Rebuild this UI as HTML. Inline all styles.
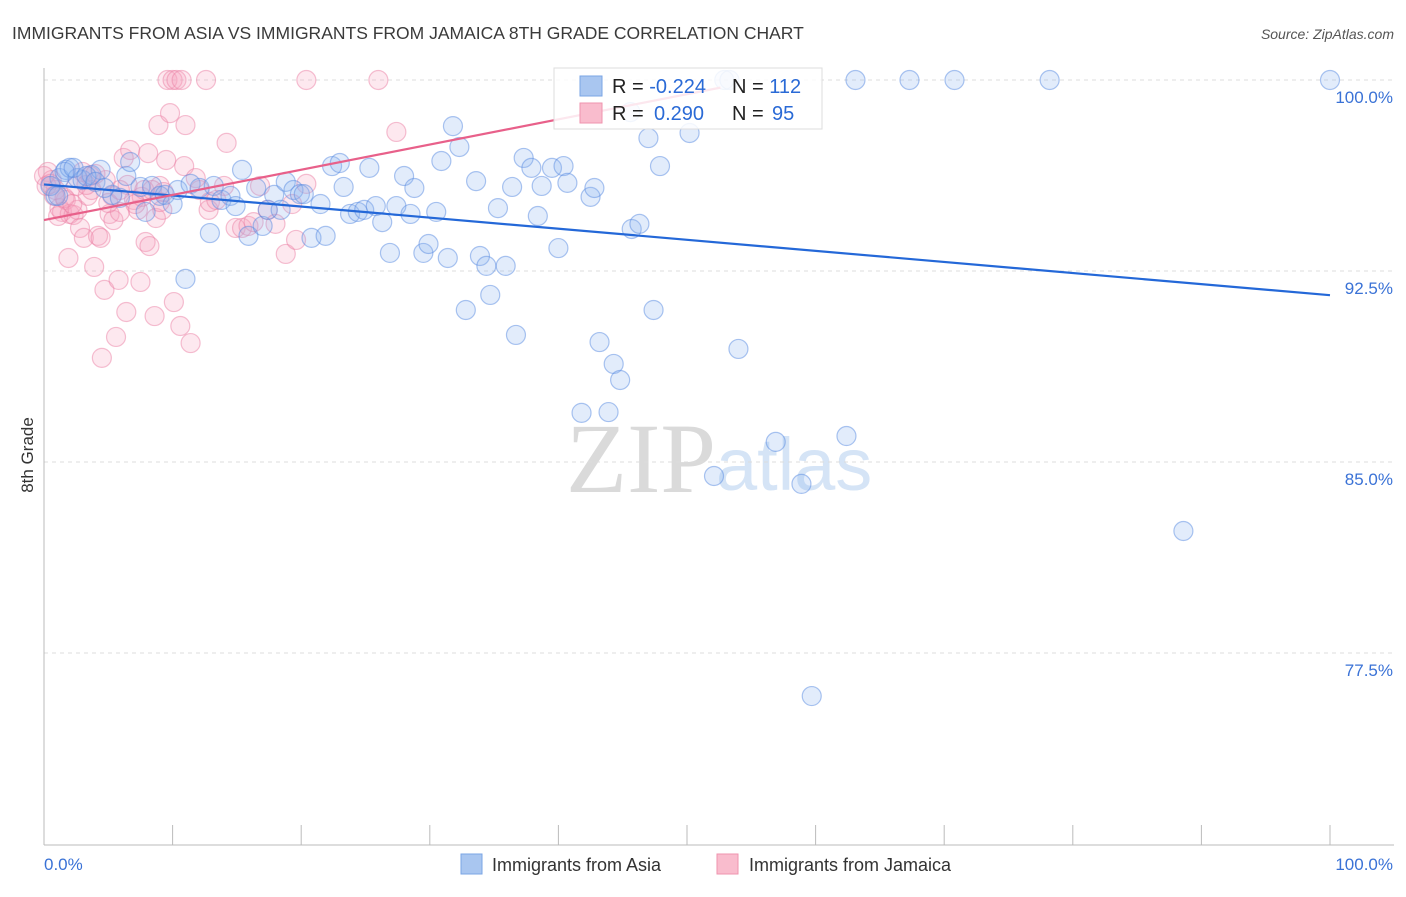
<!DOCTYPE html>
<html><head><meta charset="utf-8"><style>
body{margin:0;background:#fff;font-family:"Liberation Sans",sans-serif}
svg text{font-family:"Liberation Sans",sans-serif}
</style></head><body>
<svg id="c" width="1406" height="892">
<text x="12" y="39" font-size="17.5" fill="#3a3a3a">IMMIGRANTS FROM ASIA VS IMMIGRANTS FROM JAMAICA 8TH GRADE CORRELATION CHART</text>
<text x="1394" y="39" font-size="14" fill="#555" font-style="italic" text-anchor="end">Source: ZipAtlas.com</text>
<text x="716" y="492" font-size="100" fill="#dadada" text-anchor="end" style="font-family:'Liberation Serif',serif">ZIP</text>
<text x="716" y="490" font-size="74" fill="#d5e4f6">atlas</text>
<g id="grid"></g>
<g id="pts"></g>
<g id="lines"></g>
<text transform="translate(33,455) rotate(-90)" font-size="17" fill="#333" text-anchor="middle">8th Grade</text>
<g>
<rect x="554" y="68" width="268" height="61" fill="#fff" fill-opacity="0.85" stroke="#ddd"/>
<rect x="580" y="76" width="22" height="20" fill="#a9c6f0" stroke="#7aa5e5"/>
<rect x="580" y="103" width="22" height="20" fill="#f9bccd" stroke="#ef93ae"/>
<text x="612" y="93" font-size="20" fill="#222">R = <tspan fill="#2a6ad6">-0.224</tspan><tspan x="732">N = </tspan><tspan fill="#2a6ad6">112</tspan></text>
<text x="612" y="120" font-size="20" fill="#222">R = <tspan x="654" fill="#2a6ad6">0.290</tspan><tspan x="732">N = </tspan><tspan x="772" fill="#2a6ad6">95</tspan></text>
</g>
<g>
<rect x="461" y="854" width="21" height="20" fill="#a9c6f0" stroke="#7aa5e5"/>
<text x="492" y="871" font-size="18" fill="#333">Immigrants from Asia</text>
<rect x="717" y="854" width="21" height="20" fill="#f9bccd" stroke="#ef93ae"/>
<text x="749" y="871" font-size="18" fill="#333">Immigrants from Jamaica</text>
</g>
</svg>
<script>
const yTicks=[100,92.5,85,77.5];
const yTickLabels=["100.0%","92.5%","85.0%","77.5%"];
const xTickVals=[0,10,20,30,40,50,60,70,80,90,100];
const asiaX=[0.9,1.2,1.7,2.0,2.6,3.0,3.7,4.4,5.3,5.9,6.4,6.7,7.5,7.9,8.4,9.0,9.4,10.0,10.4,11.0,11.4,12.1,12.9,13.2,13.8,14.5,14.9,15.4,15.9,16.5,17.0,17.4,17.9,18.4,18.8,19.4,19.9,20.2,20.8,21.5,21.9,22.4,23.0,23.3,23.8,24.4,24.9,25.3,25.8,26.3,26.9,27.4,28.0,28.5,28.8,29.5,29.9,30.5,30.9,31.4,31.8,32.3,32.8,33.6,33.9,34.4,34.7,35.3,35.9,36.4,36.7,37.3,37.9,38.4,38.7,39.5,40.0,40.4,40.7,41.8,42.5,42.8,43.2,43.9,44.3,44.8,45.6,45.7,46.3,47.0,47.4,47.9,50.2,52.1,52.9,53.3,54.0,56.9,58.9,59.7,62.4,63.1,67.3,70.8,78.2,88.6,100,0.5,1.1,1.6,2.3,3.3,4.0,4.7];
const asiaY=[95.45,96.15,96.47,96.55,96.15,96.07,96.27,96.47,95.49,95.37,96.23,96.78,95.80,94.82,95.84,95.45,95.49,95.13,95.68,92.19,95.92,95.76,93.99,95.84,95.29,95.45,95.05,96.47,93.88,95.76,94.27,94.90,95.49,94.90,96.00,95.68,95.52,95.52,93.80,95.13,93.88,96.62,96.74,95.80,94.74,94.82,94.90,96.55,95.05,94.42,93.21,95.05,96.23,94.74,95.76,93.21,93.56,94.82,96.82,93.01,98.19,97.37,90.97,96.03,93.09,92.70,91.56,94.97,92.70,95.80,89.99,96.94,96.55,94.66,95.84,96.55,93.40,96.62,95.96,86.93,95.41,95.76,89.71,86.96,88.85,88.22,98.74,94.15,94.35,97.72,90.97,96.62,97.92,84.45,100,100,89.44,85.79,84.14,75.81,86.02,100,100,100,100,82.29,100,95.84,95.45,96.39,96.55,96.23,96.00,95.76];
const jamX=[0.3,0.6,0.9,1.2,1.4,1.7,1.9,2.0,2.3,2.6,2.8,3.1,3.4,3.7,3.9,4.2,4.4,4.5,4.7,4.8,5.1,5.3,5.4,5.6,5.8,5.9,6.2,6.4,6.5,6.7,7.0,7.3,7.5,7.6,7.9,8.1,8.2,8.6,8.7,8.9,9.0,9.2,9.5,9.6,9.8,10.0,10.1,10.3,10.6,10.7,10.9,11.0,11.4,12.1,12.6,12.8,12.9,14.0,14.2,14.9,15.4,15.9,16.3,16.8,17.4,18.0,18.8,19.3,19.6,20.4,20.4,26.0,27.4,0,0.2,0.5,0.8,1.1,1.6,2.2,2.5,3.0,3.3,3.6,4.0,5.0,5.9,7.1,7.8,8.4,9.0,9.3,11.8,13.4];
const jamY=[96.39,96.07,95.68,94.97,94.82,95.29,93.01,94.74,94.70,94.90,94.19,93.80,95.45,95.68,92.66,93.88,93.80,89.09,91.76,96.07,94.74,95.45,94.50,89.91,92.15,94.82,96.94,90.89,95.88,97.25,95.29,94.90,92.07,95.41,93.64,97.13,93.48,90.73,94.58,98.23,95.84,94.90,96.86,100,98.70,100,91.28,100,90.34,100,96.62,98.23,89.67,95.68,100,94.90,95.21,95.84,97.53,94.19,94.19,94.27,94.42,95.84,94.90,94.35,93.17,95.13,93.72,100,95.92,100,97.96,96.23,95.84,95.92,95.45,94.66,95.37,95.13,95.84,96.39,95.88,96.23,96.31,95.17,95.68,95.13,95.68,95.68,95.21,95.60,96.15,95.29];
const asiaTrendX=[0,100];
const asiaTrendY=[95.9,91.55];
const jamTrendX=[0,52.6];
const jamTrendY=[94.5,99.7];

const NS="http://www.w3.org/2000/svg";
const X0=44,X1=1330,Y100=80,PXU=191/7.5;
const sx=v=>X0+(X1-X0)*v/100;
const sy=v=>Y100+(100-v)*PXU;
function mk(t,a,p){const e=document.createElementNS(NS,t);for(const k in a)e.setAttribute(k,a[k]);p.appendChild(e);return e;}
const grid=document.getElementById('grid');
yTicks.forEach((t,i)=>{
  const l=mk('line',{x1:44,x2:1394,y1:sy(t),y2:sy(t),stroke:'#dcdcdc','stroke-dasharray':'4,4'},grid);
  
  
  const tx=mk('text',{x:1393,y:sy(t)+23,'font-size':17,fill:'#3a72d6','text-anchor':'end'},grid);
  tx.textContent=yTickLabels[i];
  
  
});
const ax=mk('line',{x1:44,x2:1394,y1:845,y2:845,stroke:'#bbb'},grid);


const ay=mk('line',{x1:44,x2:44,y1:68,y2:845,stroke:'#bbb'},grid);


xTickVals.forEach(v=>{
  const t=mk('line',{x1:sx(v),x2:sx(v),y1:825,y2:845,stroke:'#bbb'},grid);
  
  
});
const xl=mk('text',{x:44,y:870,'font-size':17,fill:'#3a72d6'},grid);xl.textContent='0.0%';


const xr=mk('text',{x:1393,y:870,'font-size':17,fill:'#3a72d6','text-anchor':'end'},grid);xr.textContent='100.0%';


const pts=document.getElementById('pts');
jamX.forEach((v,i)=>{
  const c=mk('circle',{cx:sx(v),cy:sy(jamY[i]),r:9.5,fill:'rgba(246,165,190,0.25)',stroke:'rgba(236,130,165,0.5)','stroke-width':1.2},pts);
  
  
});
asiaX.forEach((v,i)=>{
  const c=mk('circle',{cx:sx(v),cy:sy(asiaY[i]),r:9.5,fill:'rgba(140,180,240,0.25)',stroke:'rgba(90,140,225,0.5)','stroke-width':1.2},pts);
  
  
});
const lines=document.getElementById('lines');
const l1=mk('line',{x1:sx(asiaTrendX[0]),y1:sy(asiaTrendY[0]),x2:sx(asiaTrendX[1]),y2:sy(asiaTrendY[1]),stroke:'#2468d8','stroke-width':2.2},lines);


const l2=mk('line',{x1:sx(jamTrendX[0]),y1:sy(jamTrendY[0]),x2:sx(jamTrendX[1]),y2:sy(jamTrendY[1]),stroke:'#e8608a','stroke-width':2.2},lines);


</script>
</body></html>
